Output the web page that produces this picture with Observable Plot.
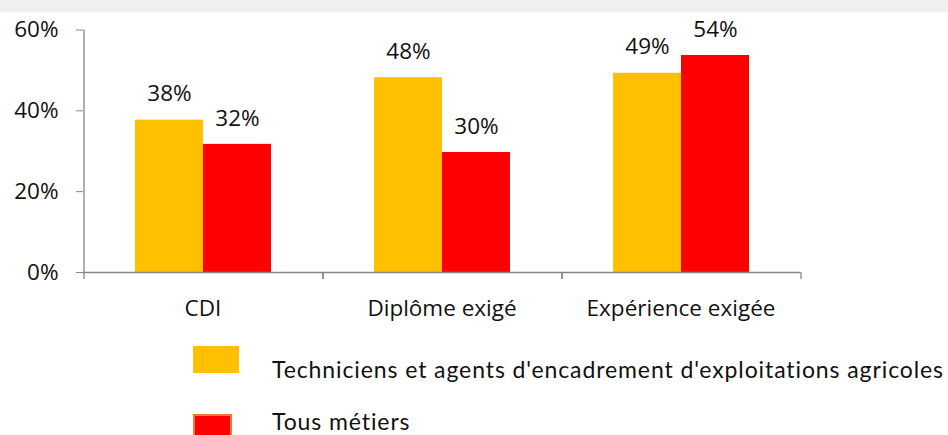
<!DOCTYPE html>
<html><head><meta charset="utf-8">
<script src="https://cdn.jsdelivr.net/npm/d3@7"></script>
<script src="https://cdn.jsdelivr.net/npm/@observablehq/plot@0.6"></script>
<style>
html,body{margin:0;padding:0;background:#fff;width:948px;height:435px;overflow:hidden}
#band{height:12px;background:#f0f0f0}
#chart svg{display:block}
#legend{position:relative;height:103px;font-family:Lato,sans-serif;font-size:23px;letter-spacing:0.9px;color:#111}
#legend .sw{position:absolute;box-sizing:border-box}
#legend .lb{position:absolute;white-space:nowrap;line-height:1}
</style></head><body>
<div id="band"></div><div id="chart"></div><div id="legend"></div>
<script>
const categories = ["CDI", "Diplôme exigé", "Expérience exigée"];
const series = ["Techniciens et agents d'encadrement d'exploitations agricoles", "Tous métiers"];
const techniciens = [0.377, 0.482, 0.493];
const tousMetiers = [0.317, 0.297, 0.537];
const yTicks = [0, 0.2, 0.4, 0.6];
const colors = ["#FFC000", "#FF0000"];

const data = categories.flatMap((c, i) => [
  {cat: c, series: series[0], value: techniciens[i]},
  {cat: c, series: series[1], value: tousMetiers[i]}
]);

const W = 948, H = 320, ML = 83, MR = 148, MT = 17.5, MB = 60;
const fxStep = (W - ML - MR) / categories.length;
const xPadOuter = 0.757;
const xStep = fxStep / (series.length + 2 * xPadOuter);
const edgeOffset = xPadOuter * xStep + xStep / 2;
const yMax = 0.6;
const tickLen = 7;
const tickUnits = tickLen * yMax / (H - MT - MB);
const axisColor = "#868686";
const textColor = "#111";
const font = "'Open Sans', sans-serif";
const fs = 22.5;
const pct = d3.format(".0%");

const chart = Plot.plot({
  width: W, height: H,
  marginLeft: ML, marginRight: MR, marginTop: MT, marginBottom: MB,
  style: {fontFamily: font, fontSize: fs + "px", color: textColor, background: "transparent", overflow: "visible"},
  fx: {domain: categories, paddingInner: 0, paddingOuter: 0, label: null, axis: null},
  x: {domain: series, paddingInner: 0, paddingOuter: xPadOuter, axis: null},
  y: {domain: [0, yMax], label: null, axis: null},
  color: {domain: series, range: colors},
  marks: [
    Plot.barY(data, {fx: "cat", x: "series", y: "value", fill: "series"}),
    Plot.ruleY([0], {stroke: axisColor, strokeWidth: 1.3}),
    Plot.ruleX([series[0]], {x: d => d, y1: 0, y2: -tickUnits, dx: -edgeOffset, stroke: axisColor, strokeWidth: 1.3}),
    Plot.ruleX([series[1]], {x: d => d, y1: 0, y2: -tickUnits, dx: edgeOffset, stroke: axisColor, strokeWidth: 1.3}),
    Plot.ruleX([{cat: categories[0], s: series[0]}], {fx: "cat", x: "s", y1: 0, y2: yMax, dx: -edgeOffset, stroke: axisColor, strokeWidth: 1.3}),
    Plot.text(data, {fx: "cat", x: "series", y: "value", text: d => pct(d.value), dy: -26, fontSize: fs, fill: textColor}),
    Plot.axisY({ticks: yTicks, tickFormat: pct, tickSize: 7, tickPadding: 18, stroke: axisColor, fill: textColor, fontSize: fs, label: null}),
    Plot.axisFx({anchor: "bottom", tickSize: 0, tickPadding: 28, fontSize: fs, fill: textColor, label: null})
  ]
});
document.getElementById("chart").appendChild(chart);

// legend
const legend = document.getElementById("legend");
const legendItems = [
  {name: series[0], color: colors[0], border: colors[0], left: 193, top: 14, w: 46, h: 27, textTop: 26},
  {name: series[1], color: colors[1], border: "#ef7a3c", left: 193, top: 82, w: 39, h: 27, textTop: 78}
];
legendItems.forEach(it => {
  const sw = document.createElement("div");
  sw.className = "sw";
  Object.assign(sw.style, {left: it.left + "px", top: it.top + "px", width: it.w + "px", height: it.h + "px",
    background: it.color, border: "2px solid " + it.border});
  legend.appendChild(sw);
  const lb = document.createElement("div");
  lb.className = "lb";
  lb.textContent = it.name;
  Object.assign(lb.style, {left: "272px", top: it.textTop + "px"});
  legend.appendChild(lb);
});
</script>
</body></html>
